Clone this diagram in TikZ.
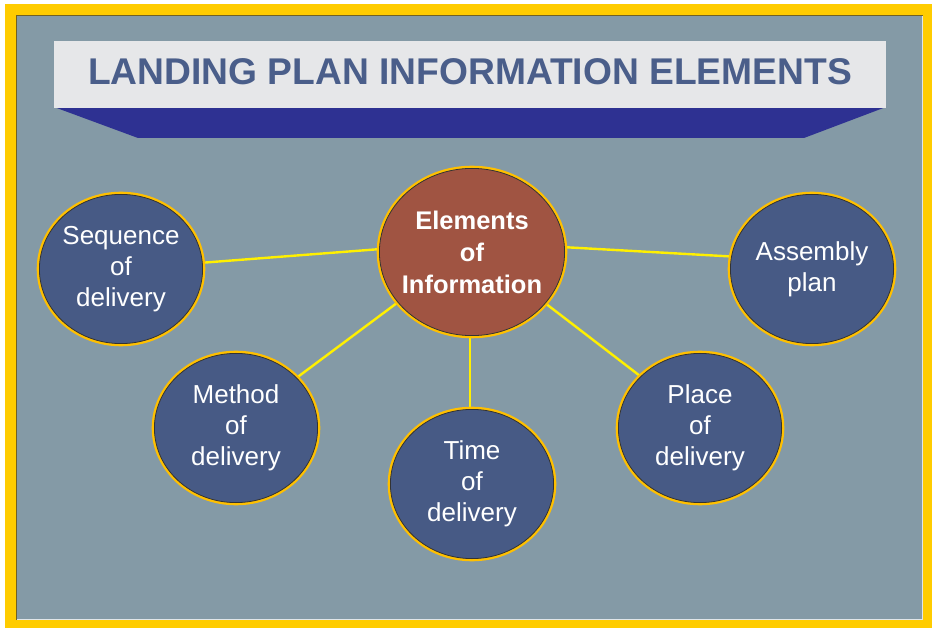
\documentclass[tikz,border=0pt]{standalone}
\usepackage{fontspec}
\setmainfont{Liberation Sans}
\usetikzlibrary{shapes.geometric,backgrounds,calc}
\definecolor{frameyel}{HTML}{FFCC00}
\definecolor{bggrey}{HTML}{849AA6}
\definecolor{slate}{HTML}{475A85}
\definecolor{brick}{HTML}{A05442}
\definecolor{gold}{HTML}{FFC000}
\definecolor{ringdark}{HTML}{333333}
\definecolor{titlebox}{HTML}{E6E7E9}
\definecolor{titletext}{HTML}{4A5E8A}
\definecolor{band}{HTML}{2E3192}
\definecolor{conncol}{HTML}{FFF000}
\tikzset{
  bub/.style={ellipse, draw=gold, line width=2.6pt, fill=slate, inner ysep=0pt, inner xsep=-12pt,
    minimum width=166pt, minimum height=152pt, text=white, align=center,
    font=\fontsize{26}{31}\selectfont},
  hubbub/.style={bub, fill=brick, minimum width=188pt, minimum height=170pt,
    font=\fontsize{25.5}{32}\bfseries\selectfont},
  conn/.style={draw=conncol, line width=2.4pt},
  ringline/.style={draw=ringdark, line width=0.8pt}
}
\begin{document}
\begin{tikzpicture}[x=1pt,y=-1pt]
\useasboundingbox (0,0) rectangle (932,628);
\begin{pgfonlayer}{background}
% frame
\fill[white] (0,0) rectangle (932,628);
\fill[frameyel] (5,4) rectangle (932,628);
\fill[bggrey] (17,16) rectangle (923,620);
\draw[ringdark!70!frameyel, line width=1.2pt] (16.4,620) -- (16.4,15.4) -- (923,15.4);
\draw[white!75!bggrey, line width=1pt] (17,619.5) -- (922.5,619.5) -- (922.5,16);
% title banner
\fill[band] (54,107) -- (886,107) -- (804,138) -- (138,138) -- cycle;
\fill[titlebox] (54,41) rectangle (886,108);
\end{pgfonlayer}
\node[font=\fontsize{37.2}{40}\bfseries\selectfont, text=titletext, anchor=base] (title) at (470,85) {LANDING PLAN INFORMATION ELEMENTS};
% bubbles
\node[hubbub] (cen) at (472,252) {Elements\\of\\Information};
\node[bub] (seq) at (121,269) {Sequence\\of\\delivery};
\node[bub] (asm) at (812,269) {Assembly\\plan};
\node[bub] (met) at (236,428) {Method\\of\\delivery};
\node[bub] (tim) at (472,484) {Time\\of\\delivery};
\node[bub] (pla) at (700,428) {Place\\of\\delivery};
\foreach \n/\rx/\ry in {seq/81.6/74.6, asm/81.6/74.6, met/81.6/74.6, tim/81.6/74.6, pla/81.6/74.6, cen/92.6/83.6}
  \draw[ringline] (\n.center) ellipse [x radius=\rx, y radius=\ry];
\coordinate (h1) at (472,242);
\coordinate (h2) at (472,247);
% connectors behind bubbles
\begin{pgfonlayer}{background}
\draw[conn] (seq.center) -- (h1);
\draw[conn] ($(asm.center)+(0,-8)$) -- (h1);
\draw[conn] ($(met.center)+(0,-5)$) -- (h2);
\draw[conn] ($(pla.center)+(0,-6)$) -- (h2);
\draw[conn] ($(cen.center)+(-2,0)$) -- ($(tim.center)+(-2,0)$);
\end{pgfonlayer}
\end{tikzpicture}
\end{document}
